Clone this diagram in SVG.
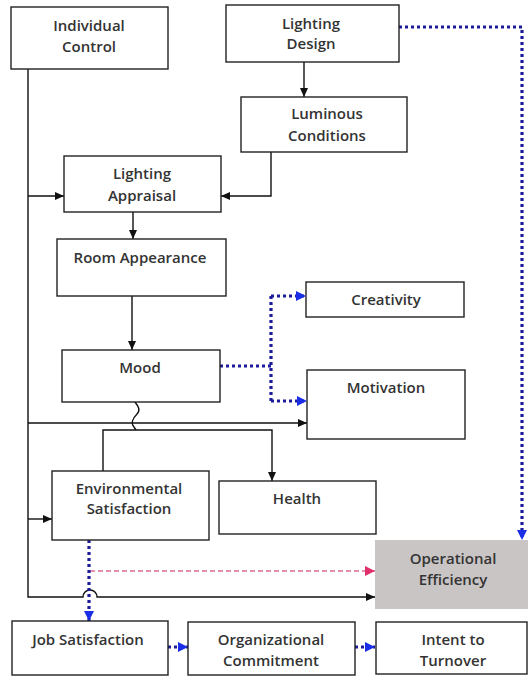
<svg xmlns="http://www.w3.org/2000/svg" width="528" height="676" viewBox="0 0 528 676">
<style>
.box{fill:#fff;stroke:#222;stroke-width:1.4}
.op{fill:#c9c5c5;stroke:none}
text{font-family:"Open Sans","Noto Sans","DejaVu Sans",sans-serif;font-size:15px;font-weight:600;fill:#333;text-anchor:middle}
.k{fill:none;stroke:#111;stroke-width:1.4}
.b{fill:none;stroke:#1c1c9a;stroke-width:3.2;stroke-dasharray:3 3}
.p{fill:none;stroke:#d02060;stroke-width:1.2;stroke-dasharray:5 3}
</style>
<defs>
<marker id="ak" markerUnits="userSpaceOnUse" markerWidth="10" markerHeight="10" refX="9" refY="5" orient="auto"><path d="M0,1 L9,5 L0,9 Z" fill="#111"/></marker>
<marker id="ab" markerUnits="userSpaceOnUse" markerWidth="12" markerHeight="12" refX="10" refY="6" orient="auto"><path d="M0,1 L10,6 L0,11 Z" fill="#1a2ee8"/></marker>
<marker id="ap" markerUnits="userSpaceOnUse" markerWidth="12" markerHeight="12" refX="10" refY="6" orient="auto"><path d="M0,1 L10,6 L0,11 Z" fill="#e0306a"/></marker>
</defs>
<g id="op-eff"><rect class="op" x="375" y="540" width="153" height="69"/><text x="453" y="564">Operational</text><text x="453" y="585">Efficiency</text></g>
<g id="connectors">
<path class="k" d="M304,62 V97" marker-end="url(#ak)"/>
<path class="k" d="M271,152 V196 H221" marker-end="url(#ak)"/>
<path class="k" d="M28,69 V597 H83 A7,7 0 0 1 97,597 H375" marker-end="url(#ak)"/>
<path class="k" d="M28,196 H64" marker-end="url(#ak)"/>
<path class="k" d="M28,423 H307" marker-end="url(#ak)"/>
<path class="k" d="M28,519 H52" marker-end="url(#ak)"/>
<path class="k" d="M133,212 V239" marker-end="url(#ak)"/>
<path class="k" d="M132,296 V350" marker-end="url(#ak)"/>
<path class="k" d="M135,402 C138,406 141,410 137,414 C132,419 131,424 134,427 L136,430"/>
<path class="k" d="M103,471 V430 H272 V481" marker-end="url(#ak)"/>
<path class="b" d="M220,366 H271"/>
<path class="b" d="M271,296 V401"/>
<path class="b" d="M271,296 H306" marker-end="url(#ab)"/>
<path class="b" d="M271,401 H307" marker-end="url(#ab)"/>
<path class="b" d="M399,27 H522 V540" marker-end="url(#ab)"/>
<path class="p" d="M90,571 H375" marker-end="url(#ap)"/>
<path class="b" d="M89,540 V621" marker-end="url(#ab)"/>
<path class="b" d="M168,647 H188" marker-end="url(#ab)"/>
<path class="b" d="M355,647 H375" marker-end="url(#ab)"/>
</g>
<g id="individual-control"><rect class="box" x="11" y="7" width="157" height="62"/><text x="89" y="31">Individual</text><text x="89" y="52">Control</text></g>
<g id="lighting-design"><rect class="box" x="226" y="5" width="173" height="57"/><text x="311" y="29">Lighting</text><text x="311" y="49">Design</text></g>
<g id="luminous-conditions"><rect class="box" x="241" y="97" width="166" height="55"/><text x="327" y="119">Luminous</text><text x="327" y="141">Conditions</text></g>
<g id="lighting-appraisal"><rect class="box" x="64" y="156" width="157" height="56"/><text x="142" y="179">Lighting</text><text x="142" y="201">Appraisal</text></g>
<g id="room-appearance"><rect class="box" x="57" y="239" width="169" height="57"/><text x="140" y="263">Room Appearance</text></g>
<g id="mood"><rect class="box" x="62" y="350" width="158" height="52"/><text x="140" y="373">Mood</text></g>
<g id="creativity"><rect class="box" x="306" y="282" width="158" height="35"/><text x="386" y="305">Creativity</text></g>
<g id="motivation"><rect class="box" x="307" y="370" width="158" height="69"/><text x="386" y="393">Motivation</text></g>
<g id="environmental-satisfaction"><rect class="box" x="52" y="471" width="157" height="69"/><text x="129" y="494">Environmental</text><text x="129" y="514">Satisfaction</text></g>
<g id="health"><rect class="box" x="219" y="481" width="157" height="53"/><text x="297" y="504">Health</text></g>
<g id="job-satisfaction"><rect class="box" x="12" y="621" width="156" height="54"/><text x="88" y="645">Job Satisfaction</text></g>
<g id="organizational-commitment"><rect class="box" x="188" y="622" width="167" height="53"/><text x="271" y="645">Organizational</text><text x="271" y="666">Commitment</text></g>
<g id="intent-to-turnover"><rect class="box" x="376" y="622" width="151" height="52"/><text x="453" y="645">Intent to</text><text x="453" y="666">Turnover</text></g>
</svg>
